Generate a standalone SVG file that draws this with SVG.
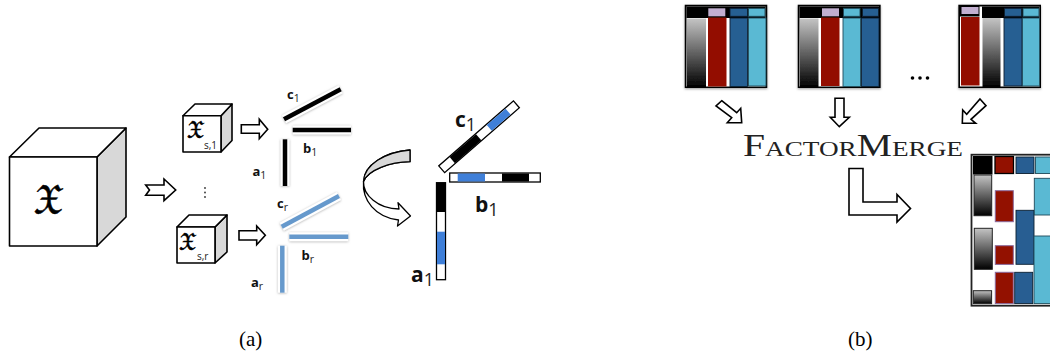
<svg xmlns="http://www.w3.org/2000/svg" width="1050" height="357" viewBox="0 0 1050 357">
<style>
.cube{fill:#fff;stroke:#000;stroke-width:1.6;stroke-linejoin:round}
.side{fill:#d8d8d8;stroke:#000;stroke-width:1.6;stroke-linejoin:round}
.arw{fill:#fff;stroke:#000;stroke-width:1.6;stroke-linejoin:miter}
.frak{font-family:"DejaVu Math TeX Gyre","DejaVu Sans",serif;fill:#000;stroke:#000;stroke-width:.5}
.lab{font-family:"Open Sans","Liberation Sans",sans-serif;font-weight:700;fill:#111}
.sub{font-family:"Open Sans","Liberation Sans",sans-serif;font-weight:400;fill:#222}
.cap{font-family:"Liberation Serif",serif;font-size:21px;fill:#000}
.halo{stroke:#fff;stroke-width:9;fill:none;filter:url(#sh)}
.blk{stroke:#000;stroke-width:4.5;fill:none}
.blu{stroke:#6699cc;stroke-width:4.5;fill:none}
.bar{fill:#fff;stroke:#000;stroke-width:1.3}
.red{fill:#931100}
.redb{fill:#931100;stroke:#8a6a9c;stroke-width:1}
.navy{fill:#285e92;stroke:#0a1f30;stroke-width:.9}
.cyan{fill:#5ab9d3;stroke:#1f4a5a;stroke-width:.9}
.gr{fill:url(#g);stroke:none}
.grb{fill:url(#g);stroke:#222;stroke-width:1}
</style>
<defs>
<linearGradient id="g" x1="0" y1="0" x2="0" y2="1"><stop offset="0" stop-color="#c4c4c4"/><stop offset="1" stop-color="#000"/></linearGradient>
<filter id="sh" filterUnits="userSpaceOnUse" x="240" y="70" width="130" height="240"><feDropShadow dx="0" dy="0.5" stdDeviation="0.8" flood-color="#999" flood-opacity=".8"/></filter>
<filter id="bs" x="-10%" y="-10%" width="120%" height="120%"><feDropShadow dx="0" dy="1.2" stdDeviation="0.8" flood-color="#666" flood-opacity=".6"/></filter>
</defs>

<g id="cube-x">
<polygon class="side" points="97,157 126,128 126,217 97,246"/>
<polygon class="cube" points="9.5,157 39,128 126,128 97,157"/>
<rect class="cube" x="9.5" y="157" width="87.5" height="89"/>
<text class="frak" x="32" y="213" font-size="36">𝔛</text>
</g>
<g id="cube-1">
<polygon class="side" points="221,115.7 232,104 232,140.5 221,152"/>
<polygon class="cube" points="183,115.7 195,104 232,104 221,115.7"/>
<rect class="cube" x="183" y="115.7" width="38" height="36.3"/>
<text class="frak" x="186" y="138" font-size="21">𝔛</text>
<text class="sub" x="204" y="148.500" font-size="10">s,1</text>
</g>
<g id="cube-r">
<polygon class="side" points="215,227 227,215 227,252 215,263"/>
<polygon class="cube" points="177,227 189,215 227,215 215,227"/>
<rect class="cube" x="177" y="227" width="38" height="36"/>
<text class="frak" x="178" y="249.500" font-size="21">𝔛</text>
<text class="sub" x="197" y="260" font-size="10">s,r</text>
</g>
<g id="dots-a" fill="#333"><circle cx="205" cy="188" r=".9"/><circle cx="205" cy="192.500" r=".9"/><circle cx="205" cy="197" r=".9"/></g>

<g id="factors-1">
<line class="halo" x1="284" y1="119.300" x2="340.700" y2="89.300"/><line class="blk" x1="284" y1="119.300" x2="340.700" y2="89.300"/>
<line class="halo" x1="292.700" y1="130" x2="351" y2="130"/><line class="blk" x1="292.700" y1="130" x2="351" y2="130"/>
<line class="halo" x1="285" y1="139.300" x2="285" y2="186"/><line class="blk" x1="285" y1="139.300" x2="285" y2="186"/>
<text class="lab" x="287" y="99" font-size="13">c<tspan class="sub" dy="2.500" font-size="10.500">1</tspan></text>
<text class="lab" x="303" y="153" font-size="13">b<tspan class="sub" dy="2.500" font-size="10.500">1</tspan></text>
<text class="lab" x="252.500" y="176" font-size="13">a<tspan class="sub" dy="2.500" font-size="10.500">1</tspan></text>
</g>
<g id="factors-r">
<line class="halo" x1="281.700" y1="226.700" x2="339" y2="196"/><line class="blu" x1="281.700" y1="226.700" x2="339" y2="196"/>
<line class="halo" x1="289.300" y1="236.700" x2="348.300" y2="236.700"/><line class="blu" x1="289.300" y1="236.700" x2="348.300" y2="236.700"/>
<line class="halo" x1="282.300" y1="245.700" x2="282.300" y2="292.700"/><line class="blu" x1="282.300" y1="245.700" x2="282.300" y2="292.700"/>
<text class="lab" x="277" y="208" font-size="13">c<tspan class="sub" dy="2.500" font-size="10.500">r</tspan></text>
<text class="lab" x="301.500" y="260" font-size="13">b<tspan class="sub" dy="2.500" font-size="10.500">r</tspan></text>
<text class="lab" x="251" y="287" font-size="13">a<tspan class="sub" dy="2.500" font-size="10.500">r</tspan></text>
</g>

<g id="rank-one">
<rect class="bar" x="436.500" y="182.700" width="9" height="97"/>
<rect x="437" y="183" width="8" height="29" fill="#000"/>
<rect x="437" y="231.700" width="8" height="32.600" fill="#3f7fd8"/>
<rect class="bar" x="449.700" y="173" width="90.600" height="9"/>
<rect x="457.700" y="173.500" width="27.300" height="8" fill="#3f7fd8"/>
<rect x="502" y="173.500" width="27" height="8" fill="#000"/>
<g transform="translate(441.700 169.300) rotate(-41)">
<rect class="bar" x="0" y="-4.500" width="99" height="9"/>
<rect x="14" y="-4" width="35" height="8" fill="#000"/>
<rect x="63" y="-3.800" width="25" height="7.600" fill="#3f7fd8"/>
</g>
<text class="lab" x="455" y="127" font-size="21">c<tspan class="sub" dy="4" font-size="18">1</tspan></text>
<text class="lab" x="475" y="212" font-size="21">b<tspan class="sub" dy="4" font-size="18">1</tspan></text>
<text class="lab" x="411" y="282" font-size="21">a<tspan class="sub" dy="4" font-size="18">1</tspan></text>
</g>

<g id="connectors">
<polygon class="arw" points="145.700,185 164,185 164,179 175.700,190 164,200.700 164,195.300 145.700,195.300 149.500,190"/>
<polygon class="arw" points="241.300,124.700 259.300,124.700 259.300,119.300 267.700,129.300 259.300,138.700 259.300,133.300 241.300,133.300"/>
<polygon class="arw" points="239,230.700 256.700,230.700 256.700,226 265.300,235.300 256.700,244.700 256.700,240 239,240"/>
<path d="M410 150C385 152 364 165 363.500 181.500C363 195 378 209 399 209L398 202.700L410.500 216L397.500 226L398.500 220C375 217 362 200 363.500 181.500C368 170 390 162 410 161.700Z" fill="#fff" stroke="#000" stroke-width="1.300" stroke-linejoin="round"/>
<path d="M410 150C385 152 364 165 363.500 181.500C368 170 390 162 410 161.700Z" fill="#d8d8d8" stroke="#000" stroke-width="1.300" stroke-linejoin="round"/>
<polygon class="arw" points="721.700,100.700 736.700,112.700 740.700,108.300 741.700,122.700 727.300,122.700 731.700,117.700 716,106"/>
<polygon class="arw" points="835,98.300 844,98.300 844,117.300 849.300,117.300 839.300,126.700 830.300,117.300 835,117.300"/>
<polygon class="arw" points="980,99 986,105.700 971,119.300 975.700,123.300 962.300,123.300 962.700,110 966.700,114.300"/>
<polygon class="arw" points="849,168.500 863,168.500 863,202 897,202 897,194.500 910.500,208.500 897,222 897,215 849,215"/>
</g>

<g id="matrix-1" filter="url(#bs)">
<rect x="684.700" y="4.700" width="82.600" height="83.300" fill="#000"/>
<rect x="686.500" y="6.500" width="79" height="80" fill="#fff"/>
<rect x="686.500" y="6.500" width="79" height="11.500" fill="#000"/>
<rect x="687" y="18.500" width="19" height="69" class="gr"/>
<rect x="708.300" y="8.300" width="17" height="8" fill="#c2afd0"/>
<rect x="708" y="17.500" width="18.500" height="69" class="red"/>
<rect x="730" y="8.300" width="17.500" height="8" class="navy"/>
<rect x="730" y="18" width="17.500" height="68.500" class="navy"/>
<rect x="748.500" y="8.300" width="16.500" height="8" class="cyan"/>
<rect x="748.500" y="18" width="17.500" height="68" class="cyan"/>
</g>
<g id="matrix-2" filter="url(#bs)">
<rect x="797.700" y="4.700" width="83" height="83.300" fill="#000"/>
<rect x="799.500" y="6.500" width="79.500" height="80" fill="#fff"/>
<rect x="799.500" y="6.500" width="79.500" height="11.500" fill="#000"/>
<rect x="800" y="18.500" width="18.500" height="69" class="gr"/>
<rect x="822" y="8.300" width="17" height="8" fill="#c2afd0"/>
<rect x="821" y="17.500" width="18.500" height="68.500" class="red"/>
<rect x="843.500" y="8.300" width="16.500" height="8" class="cyan"/>
<rect x="843" y="18" width="17.500" height="68.500" class="cyan"/>
<rect x="862.500" y="8.300" width="16" height="8" class="navy"/>
<rect x="861.500" y="18" width="17.500" height="68.500" class="navy"/>
</g>
<g id="matrix-3" filter="url(#bs)">
<rect x="958.300" y="4.700" width="82.700" height="83.300" fill="#000"/>
<rect x="960" y="6.500" width="79.500" height="80" fill="#fff"/>
<rect x="982" y="6.500" width="57.500" height="11.500" fill="#000"/>
<rect x="959.500" y="6" width="20" height="10.500" fill="#000"/>
<rect x="961.500" y="7" width="17" height="7" fill="#c2afd0"/>
<rect x="961" y="17" width="18.500" height="68.500" class="red"/>
<rect x="982.500" y="18" width="18" height="69" class="gr"/>
<rect x="1004.500" y="8.300" width="17" height="8" class="navy"/>
<rect x="1004" y="18" width="18" height="68" class="navy"/>
<rect x="1023" y="8.300" width="16" height="8" class="cyan"/>
<rect x="1022.500" y="18" width="17" height="68" class="cyan"/>
</g>
<g id="dots-b" fill="#000"><circle cx="912.500" cy="78" r="1.800"/><circle cx="920" cy="78" r="1.800"/><circle cx="927.500" cy="78" r="1.800"/></g>

<text id="factormerge" x="743" y="155.700" font-family="'Liberation Serif',serif" font-size="32" font-variant="small-caps" fill="#222" textLength="220" lengthAdjust="spacingAndGlyphs">FactorMerge</text>

<g id="matrix-merged">
<rect x="971.500" y="154.700" width="90" height="151" fill="#fff" stroke="#222" stroke-width="1.800"/>
<rect x="973" y="156" width="19.500" height="18.500" fill="#000"/>
<rect x="995" y="156.500" width="18.500" height="17" class="red" stroke="#000" stroke-width="1.300"/>
<rect x="1016" y="157" width="18" height="16.500" class="navy" stroke-width="1.300"/>
<rect x="1035.500" y="157" width="16" height="16.500" class="cyan"/>
<rect x="974" y="175" width="17.700" height="40.700" class="grb"/>
<rect x="974.300" y="228.300" width="18" height="41" class="grb"/>
<rect x="973.300" y="290.700" width="18.300" height="13" class="grb"/>
<rect x="995.300" y="190.700" width="18" height="31" class="redb"/>
<rect x="995.300" y="245.700" width="18" height="18.700" class="redb"/>
<rect x="995.300" y="272.300" width="18" height="31.300" class="redb"/>
<rect x="1016" y="210.300" width="18" height="54" class="navy"/>
<rect x="1014.700" y="272.300" width="18" height="31.300" class="navy"/>
<rect x="1034.300" y="178.300" width="17" height="36.700" class="cyan"/>
<rect x="1034" y="236" width="17" height="67.600" class="cyan"/>
</g>

<text class="cap" x="239" y="346">(a)</text>
<text class="cap" x="848" y="346">(b)</text>
</svg>
